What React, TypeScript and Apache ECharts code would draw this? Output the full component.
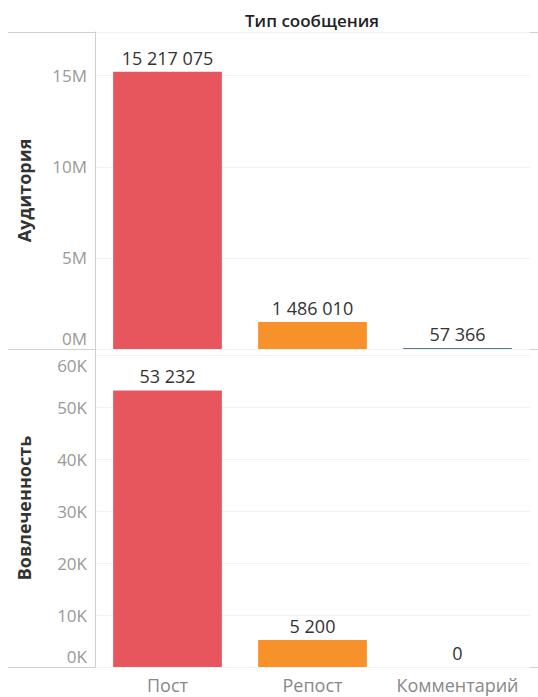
import React, { useEffect, useRef } from "react";
import * as echarts from "echarts";

const categories = ["Пост", "Репост", "Комментарий"];
const audience = [15217075, 1486010, 57366];
const engagement = [53232, 5200, 0];
const audienceColors = ["#e8565d", "#f7922b", "#4e79a7"];
const engagementColors = ["#e8565d", "#f7922b", "#4e79a7"];
const headerTitle = "Тип сообщения";
const audienceTitle = "Аудитория";
const engagementTitle = "Вовлеченность";

const fmt = (v: number) => String(Math.round(v)).replace(/\B(?=(\d{3})+(?!\d))/g, " ");
const FONT = "Open Sans";

export default function App() {
  const ref = useRef<HTMLDivElement>(null);
  useEffect(() => {
    document.body.style.margin = "0";
    const chart = echarts.init(ref.current!, undefined, { renderer: "svg" });
    const valueLabel = {
      show: true,
      position: "top",
      distance: 5,
      fontSize: 18,
      color: "#333",
      fontFamily: FONT,
      formatter: (p: any) => fmt(p.value),
    };
    const tickRich = {
      up: { fontSize: 17, color: "#999", fontFamily: FONT, padding: [0, 0, 22, 0] },
      down: { fontSize: 17, color: "#999", fontFamily: FONT, padding: [20, 0, 0, 0] },
    };
    const yCommon = {
      type: "value",
      min: 0,
      axisLine: { show: true, lineStyle: { color: "#cfcfcf" } },
      axisTick: { show: false },
      splitLine: { show: true, lineStyle: { color: "#f2f2f2" } },
      nameLocation: "middle",
      nameRotate: 90,
      nameGap: 62,
      nameTextStyle: { fontSize: 18, fontWeight: "bold", color: "#333", fontFamily: FONT },
    };
    chart.setOption({
      animation: false,
      textStyle: { fontFamily: FONT },
      grid: [
        { left: 95, right: 8, top: 32, height: 317 },
        { left: 95, right: 8, top: 349, height: 318 },
      ],
      xAxis: [
        {
          type: "category",
          gridIndex: 0,
          data: categories,
          axisLine: { show: false },
          axisTick: { show: false },
          axisLabel: { show: false },
        },
        {
          type: "category",
          gridIndex: 1,
          data: categories,
          axisLine: { show: false },
          axisTick: { show: false },
          axisLabel: { interval: 0, fontSize: 18, color: "#888", margin: 9, fontFamily: FONT },
        },
      ],
      yAxis: [
        {
          ...yCommon,
          gridIndex: 0,
          max: 17400000,
          interval: 5000000,
          name: audienceTitle,
          axisLabel: {
            fontSize: 17,
            color: "#999",
            margin: 8,
            fontFamily: FONT,
            formatter: (v: number) => (v === 0 ? "{up|0M}" : v / 1000000 + "M"),
            rich: tickRich,
            showMaxLabel: false,
          },
        },
        {
          ...yCommon,
          gridIndex: 1,
          max: 61200,
          interval: 10000,
          name: engagementTitle,
          axisLabel: {
            fontSize: 17,
            color: "#999",
            margin: 8,
            fontFamily: FONT,
            formatter: (v: number) =>
              v === 0 ? "{up|0K}" : v === 60000 ? "{down|60K}" : v / 1000 + "K",
            rich: tickRich,
            showMaxLabel: false,
          },
        },
      ],
      series: [
        {
          type: "bar",
          xAxisIndex: 0,
          yAxisIndex: 0,
          barWidth: "75%",
          data: audience.map((v, i) => ({ value: v, itemStyle: { color: audienceColors[i] } })),
          label: valueLabel,
        },
        {
          type: "bar",
          xAxisIndex: 1,
          yAxisIndex: 1,
          barWidth: "75%",
          data: engagement.map((v, i) => ({ value: v, itemStyle: { color: engagementColors[i] } })),
          label: valueLabel,
        },
      ],
      graphic: [
        {
          type: "text",
          x: 312,
          y: 20,
          style: {
            text: headerTitle,
            fontSize: 17,
            fill: "#222",
            fontFamily: FONT,
            fontWeight: 600,
            align: "center",
            verticalAlign: "middle",
          },
        },
        { type: "line", shape: { x1: 8, y1: 32.5, x2: 538, y2: 32.5 }, style: { stroke: "#d0d0d0", lineWidth: 1 } },
        { type: "line", shape: { x1: 8, y1: 349.5, x2: 538, y2: 349.5 }, style: { stroke: "#d0d0d0", lineWidth: 1 } },
        { type: "line", shape: { x1: 8, y1: 667.5, x2: 538, y2: 667.5 }, style: { stroke: "#d0d0d0", lineWidth: 1 } },
      ],
    });
    return () => chart.dispose();
  }, []);
  return <div ref={ref} style={{ width: 538, height: 697 }} />;
}
